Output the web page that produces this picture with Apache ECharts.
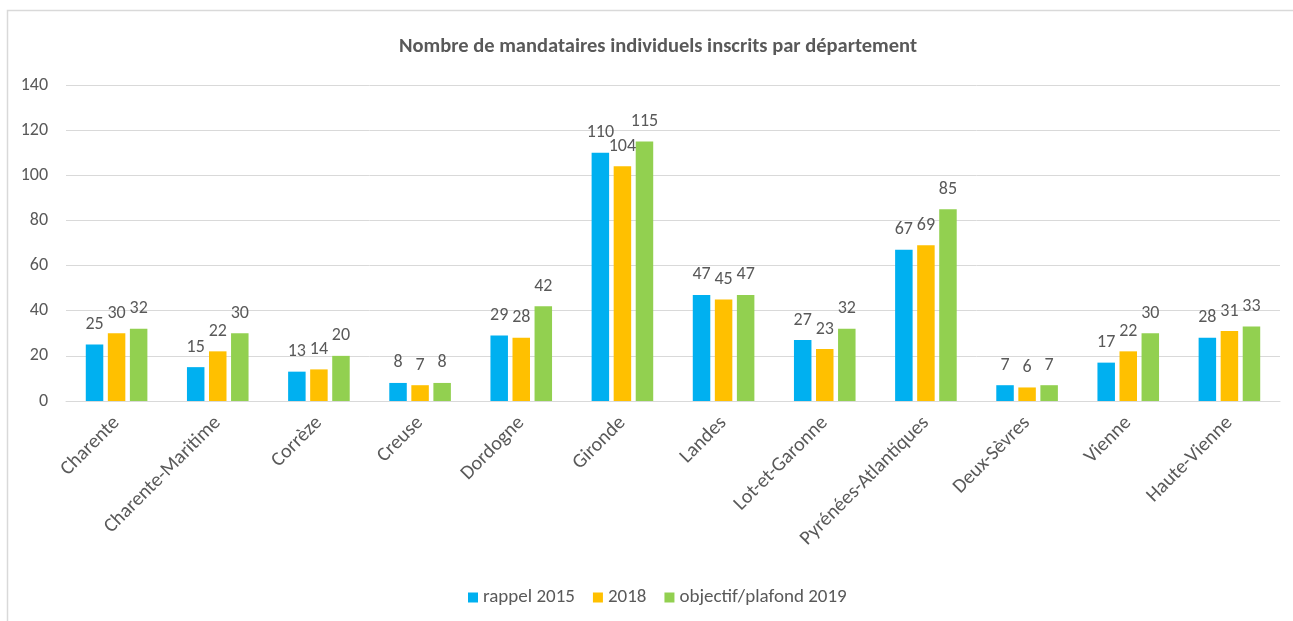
<!DOCTYPE html>
<html><head><meta charset="utf-8">
<script src="https://cdn.jsdelivr.net/npm/echarts@6/dist/echarts.min.js"></script>
<style>html,body{margin:0;padding:0;background:#fff}#c{width:1293px;height:621px}</style>
</head><body><div id="c"></div>
<script>
const categories = ['Charente','Charente-Maritime','Corrèze','Creuse','Dordogne','Gironde','Landes','Lot-et-Garonne','Pyrénées-Atlantiques','Deux-Sèvres','Vienne','Haute-Vienne'];
const rappel2015 = [25,15,13,8,29,110,47,27,67,7,17,28];
const v2018 = [30,22,14,7,28,104,45,23,69,6,22,31];
const objectif2019 = [32,30,20,8,42,115,47,32,85,7,30,33];
const yTicks = [0,20,40,60,80,100,120,140];

const font = 'Carlito, Lato, "Liberation Sans", sans-serif';
const txt = '#595959';
function mk(name, data, color){
  return {name, type:'bar', data, barWidth:17.5, barGap:'26%',
    itemStyle:{color},
    label:{show:true, position:'top', distance:11, color:txt, fontSize:18, fontFamily:font},
    labelLayout:{hideOverlap:false},
    emphasis:{disabled:true}};
}
const chart = echarts.init(document.getElementById('c'));
chart.setOption({
  animation:false,
  backgroundColor:'#fff',
  title:{text:'Nombre de mandataires individuels inscrits par département', left:394, top:31,
    textStyle:{fontSize:20.5, fontWeight:'bold', color:txt, fontFamily:font}},
  graphic:[{type:'rect', shape:{x:7.5,y:10.5,width:1300,height:700}, style:{fill:'none', stroke:'#D9D9D9', lineWidth:1.5}, silent:true}],
  legend:{bottom:9, left:463, itemWidth:10, itemHeight:10, itemGap:18, icon:'rect',
    textStyle:{fontSize:19, color:txt, fontFamily:font}, data:['rappel 2015','2018','objectif/plafond 2019']},
  grid:{left:66, right:13, top:85, bottom:220, containLabel:false},
  xAxis:{type:'category', data:categories,
    axisLine:{lineStyle:{color:'#D9D9D9'}}, axisTick:{show:false},
    axisLabel:{rotate:45, interval:0, color:txt, fontSize:20, fontFamily:font, margin:19}},
  yAxis:{type:'value', min:0, max:140, interval:20,
    axisLine:{show:false}, axisTick:{show:false},
    splitLine:{lineStyle:{color:'#D9D9D9'}},
    axisLabel:{color:txt, fontSize:18, fontFamily:font, margin:18,
      formatter:v=>yTicks.includes(v)?String(v):''}},
  series:[mk('rappel 2015',rappel2015,'#00B0F0'), mk('2018',v2018,'#FFC000'), mk('objectif/plafond 2019',objectif2019,'#92D050')]
});
</script></body></html>
